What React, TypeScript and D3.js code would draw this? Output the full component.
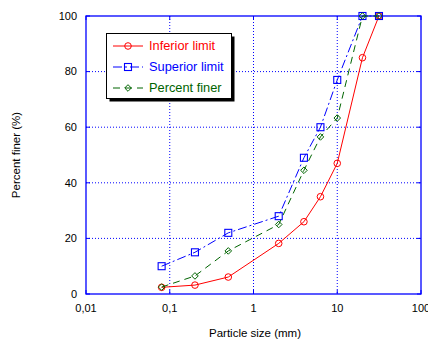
import React from "react";
import * as d3 from "d3";

const sizes = [0.08, 0.2, 0.5, 2, 4, 6.3, 10, 20, 31.5];
const inferiorLimit = [2.4, 3.2, 6.1, 18.2, 26, 35, 47, 85, 100];
const superiorLimit = [10, 15, 22, 28, 49, 60, 77, 100, 100];
const percentFiner = [2.5, 6.5, 15.5, 25, 44.5, 56.5, 63.3, 100, 100];

const xTicks = [0.01, 0.1, 1, 10, 100];
const xTickLabels = ["0,01", "0,1", "1", "10", "100"];
const yTicks = [0, 20, 40, 60, 80, 100];

const seriesList = [
  { name: "Inferior limit", values: inferiorLimit, color: "#ff0000", dash: "", marker: "circle" },
  { name: "Superior limit", values: superiorLimit, color: "#0000ff", dash: "9,3,2,3", marker: "square" },
  { name: "Percent finer", values: percentFiner, color: "#006400", dash: "7,5", marker: "diamond" },
];

const W = 428;
const H = 342;
const M = { left: 86, right: 421, top: 16, bottom: 294 };
const FONT = "'Liberation Sans', Arial, sans-serif";

function Marker({ kind, x, y, color }: { kind: string; x: number; y: number; color: string }) {
  if (kind === "circle") return <circle cx={x} cy={y} r={3.3} fill="none" stroke={color} strokeWidth={1} />;
  if (kind === "square")
    return <rect x={x - 3.5} y={y - 3.5} width={7} height={7} fill="none" stroke={color} strokeWidth={1.1} />;
  const r = 3.3;
  return (
    <path
      d={`M${x},${y - r}L${x + r},${y}L${x},${y + r}L${x - r},${y}Z`}
      fill="none"
      stroke={color}
      strokeWidth={1}
    />
  );
}

export default function App() {
  const x = d3.scaleLog().domain([0.01, 100]).range([M.left, M.right]);
  const y = d3.scaleLinear().domain([0, 100]).range([M.bottom, M.top]);
  const line = d3
    .line<number>()
    .x((_, i) => x(sizes[i]))
    .y((v) => y(v));

  const legend = { x: 106.5, y: 33.5, w: 125, h: 65 };

  return (
    <svg
      width={W}
      height={H}
      style={{ position: "absolute", left: 0, top: 0, background: "#fff" }}
      fontFamily={FONT}
    >
      {/* grid */}
      {xTicks.slice(1, -1).map((t) => (
        <line key={"gx" + t} x1={x(t)} x2={x(t)} y1={M.top} y2={M.bottom} stroke="#0000ff" strokeWidth={1} strokeDasharray="1,2" />
      ))}
      {yTicks.slice(1, -1).map((t) => (
        <line key={"gy" + t} x1={M.left} x2={M.right} y1={y(t)} y2={y(t)} stroke="#0000ff" strokeWidth={1} strokeDasharray="1,2" />
      ))}
      {/* frame */}
      <rect x={M.left} y={M.top} width={M.right - M.left} height={M.bottom - M.top} fill="none" stroke="#0000ff" strokeWidth={1.3} />
      {/* major ticks */}
      {yTicks.map((t) => (
        <g key={"ty" + t}>
          <line x1={M.left} x2={M.left + 4} y1={y(t)} y2={y(t)} stroke="#0000ff" />
          <line x1={M.right} x2={M.right - 4} y1={y(t)} y2={y(t)} stroke="#0000ff" />
          <text x={77} y={y(t)} dy="0.35em" textAnchor="end" fontSize={11} fill="#000">
            {t}
          </text>
        </g>
      ))}
      {xTicks.map((t, i) => (
        <g key={"tx" + t}>
          <line x1={x(t)} x2={x(t)} y1={M.bottom} y2={M.bottom - 4} stroke="#0000ff" />
          <line x1={x(t)} x2={x(t)} y1={M.top} y2={M.top + 4} stroke="#0000ff" />
          <text x={x(t)} y={311.5} textAnchor="middle" fontSize={11} fill="#000">
            {xTickLabels[i]}
          </text>
        </g>
      ))}
      {/* axis titles */}
      <text x={255} y={337} textAnchor="middle" fontSize={11.5} fill="#000">
        Particle size (mm)
      </text>
      <text transform={`translate(20,155) rotate(-90)`} textAnchor="middle" fontSize={11.5} fill="#000">
        Percent finer (%)
      </text>
      {/* series */}
      {seriesList.map((s) => (
        <g key={s.name}>
          <path d={line(s.values) || ""} fill="none" stroke={s.color} strokeWidth={1} strokeDasharray={s.dash || undefined} />
          {s.values.map((v, i) => (
            <Marker key={i} kind={s.marker} x={x(sizes[i])} y={y(v)} color={s.color} />
          ))}
        </g>
      ))}
      {/* legend */}
      <rect x={legend.x + 3} y={legend.y + 3} width={legend.w} height={legend.h} fill="#000" />
      <rect x={legend.x} y={legend.y} width={legend.w} height={legend.h} fill="#fff" stroke="#000" strokeWidth={1} />
      {seriesList.map((s, i) => {
        const ly = 46 + i * 21;
        return (
          <g key={"lg" + s.name}>
            <line x1={113} x2={143} y1={ly} y2={ly} stroke={s.color} strokeWidth={1} strokeDasharray={s.dash || undefined} />
            <Marker kind={s.marker} x={128} y={ly} color={s.color} />
            <text x={149} y={ly} dy="0.35em" fontSize={12.8} fill={s.color}>
              {s.name}
            </text>
          </g>
        );
      })}
    </svg>
  );
}
